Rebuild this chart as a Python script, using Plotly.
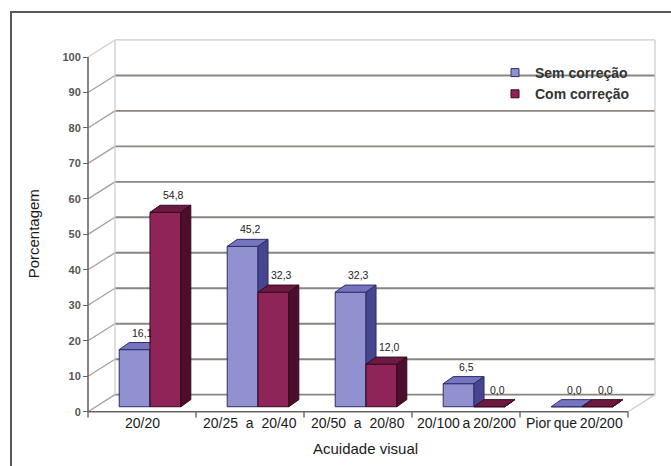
import plotly.graph_objects as go

# ---- data ----------------------------------------------------------------
categories = [
    "20/20",
    "20/25\u00a0\u00a0a\u00a0\u00a020/40",
    "20/50\u00a0\u00a0a\u00a0\u00a020/80",
    "20/100\u2009a\u200920/200",
    "Pior\u2009que\u200920/200",
]
sem_correcao = [16.1, 45.2, 32.3, 6.5, 0.0]
com_correcao = [54.8, 32.3, 12.0, 0.0, 0.0]
series_names = ["Sem correção", "Com correção"]
y_ticks = list(range(0, 101, 10))

# ---- canvas geometry (pixels) -------------------------------------------
W, H = 671, 466
PX_X = 108.0      # pixels per category
PX_Y = 3.547      # pixels per percentage point
AX_X_PX = 88.0    # front vertical axis
AX_Y_PX = 411.7   # front baseline
PLOT_L, PLOT_R, PLOT_T, PLOT_B = 81, 661, 36, 464


def data_x(px):
    return -0.5 + (px - AX_X_PX) / PX_X


def data_y(px):
    return (AX_Y_PX - px) / PX_Y


def paper_x(px):
    return (px - PLOT_L) / (PLOT_R - PLOT_L)


def paper_y(px):
    return (PLOT_B - px) / (PLOT_B - PLOT_T)


# oblique projection offsets (data units)
WALL_DX, WALL_DY = 0.25, 4.8      # back wall
BAR_DX, BAR_DY = 0.074, 1.4       # front face of the columns
DEPTH_DX, DEPTH_DY = 0.093, 2.0   # column depth
BAR_W = 0.285

n = len(categories)
x_first, x_last = -0.5, n - 0.5

styles = [
    dict(front="#9191CF", top="#7575BF", side="#46468F", edge="#2D2D6B"),
    dict(front="#8E2457", top="#6D1A42", side="#4B0E2C", edge="#37091F"),
]

fig = go.Figure()


def poly(points):
    xs, ys = [], []
    for p in points:
        xs.append(p[0])
        ys.append(p[1])
    return xs, ys


# ---- 3D columns (front, top and side faces) -----------------------------
for s, values in enumerate([sem_correcao, com_correcao]):
    st = styles[s]
    faces = {"front": ([], []), "top": ([], []), "side": ([], [])}
    for i, v in enumerate(values):
        x0 = i + BAR_DX + (-BAR_W if s == 0 else 0.0)
        x1 = x0 + BAR_W
        b = BAR_DY
        t = b + v
        shapes_pts = {
            "front": [(x0, b), (x1, b), (x1, t), (x0, t), (x0, b)],
            "top": [(x0, t), (x1, t), (x1 + DEPTH_DX, t + DEPTH_DY),
                    (x0 + DEPTH_DX, t + DEPTH_DY), (x0, t)],
            "side": [(x1, b), (x1 + DEPTH_DX, b + DEPTH_DY),
                     (x1 + DEPTH_DX, t + DEPTH_DY), (x1, t), (x1, b)],
        }
        for k, pts in shapes_pts.items():
            xs, ys = poly(pts)
            faces[k][0].extend(xs + [None])
            faces[k][1].extend(ys + [None])
    for k in ["front", "top", "side"]:
        fig.add_trace(go.Scatter(
            x=faces[k][0], y=faces[k][1], mode="lines", fill="toself",
            fillcolor=st[k], line=dict(color=st["edge"], width=1),
            hoverinfo="skip", showlegend=False, connectgaps=False,
        ))

# legend entries
for s, name in enumerate(series_names):
    fig.add_trace(go.Scatter(
        x=[None], y=[None], mode="markers", name=name,
        marker=dict(symbol="square", size=8, color=styles[s]["front"],
                    line=dict(color=styles[s]["edge"], width=1)),
    ))

# ---- walls, floor and grid ---------------------------------------------
GRID = "#8A8580"
GRID_SIDE = "#A5A09C"
EDGE_LIGHT = "#D2CCC7"
AXIS = "#666666"
shapes = []


def line(x0, y0, x1, y1, color, width, layer="below"):
    shapes.append(dict(type="line", xref="x", yref="y", x0=x0, y0=y0,
                       x1=x1, y1=y1, layer=layer,
                       line=dict(color=color, width=width)))


for v in y_ticks:
    top = v == y_ticks[-1]
    line(x_first + WALL_DX, v + WALL_DY, x_last + WALL_DX, v + WALL_DY,
         EDGE_LIGHT if top else GRID, 1.3 if top else 1.9)
    line(x_first, v, x_first + WALL_DX, v + WALL_DY,
         EDGE_LIGHT if top else GRID_SIDE, 1.3)

# back wall vertical edges and floor right edge
line(x_first + WALL_DX, WALL_DY, x_first + WALL_DX, y_ticks[-1] + WALL_DY, EDGE_LIGHT, 1.3)
line(x_last + WALL_DX, WALL_DY, x_last + WALL_DX, y_ticks[-1] + WALL_DY, EDGE_LIGHT, 1.3)
line(x_last, 0, x_last + WALL_DX, WALL_DY, EDGE_LIGHT, 1.3)

# front axes
line(x_first, 0, x_first, y_ticks[-1], AXIS, 1.6, "above")
line(x_first, 0, x_last, 0, AXIS, 1.6, "above")
for k in range(n + 1):
    line(x_first + k, 0, x_first + k, -1.6, AXIS, 1.4, "above")

# outer frame
shapes.append(dict(type="rect", xref="paper", yref="paper",
                   x0=paper_x(11), x1=paper_x(W + 20),
                   y0=paper_y(12), y1=paper_y(H + 20),
                   line=dict(color="#5A5A5A", width=2), layer="below"))

# ---- text ------------------------------------------------------------------
FONT = "Liberation Sans, Arial, sans-serif"
annotations = []
for s, values in enumerate([sem_correcao, com_correcao]):
    for i, v in enumerate(values):
        xc = i + BAR_DX + (-BAR_W / 2 if s == 0 else BAR_W / 2)
        annotations.append(dict(
            x=xc + 0.075, y=v + BAR_DY + DEPTH_DY, xref="x", yref="y",
            text=f"{v:.1f}".replace(".", ","), showarrow=False,
            yanchor="bottom", yshift=2,
            font=dict(family=FONT, size=10.5, color="#222222"),
        ))

for i, c in enumerate(categories):
    annotations.append(dict(
        x=i, y=data_y(423), xref="x", yref="y", text=c, showarrow=False,
        xanchor="center",
        font=dict(family=FONT, size=14, color="#1A1A1A"),
    ))

annotations.append(dict(
    x=data_x(365), y=data_y(448), xref="x", yref="y", text="Acuidade visual",
    showarrow=False, xanchor="center",
    font=dict(family=FONT, size=15, color="#1A1A1A"),
))
annotations.append(dict(
    x=paper_x(33), y=50, xref="paper", yref="y", text="Porcentagem",
    textangle=-90, showarrow=False, xanchor="center", yanchor="middle",
    font=dict(family=FONT, size=15, color="#1A1A1A"),
))

fig.update_layout(
    width=W, height=H,
    margin=dict(l=PLOT_L, r=W - PLOT_R, t=PLOT_T, b=H - PLOT_B, pad=0),
    paper_bgcolor="white", plot_bgcolor="white",
    xaxis=dict(range=[data_x(PLOT_L), data_x(PLOT_R)], visible=False, fixedrange=True),
    yaxis=dict(
        range=[data_y(PLOT_B), data_y(PLOT_T)], anchor="free",
        position=paper_x(AX_X_PX), tickvals=y_ticks, ticks="outside",
        ticklen=5, tickwidth=1.4, tickcolor=AXIS, showgrid=False,
        zeroline=False, showline=False, automargin=False, fixedrange=True,
        tickfont=dict(family=FONT, size=11, color="#555555", weight="bold"),
    ),
    legend=dict(
        x=paper_x(495), y=paper_y(57), xanchor="left", yanchor="top",
        bgcolor="rgba(0,0,0,0)",
        font=dict(family=FONT, size=14, color="#333333", weight="bold"),
        itemwidth=30, tracegroupgap=0,
    ),
    shapes=shapes, annotations=annotations, showlegend=True,
)

fig.write_html("out.html")
